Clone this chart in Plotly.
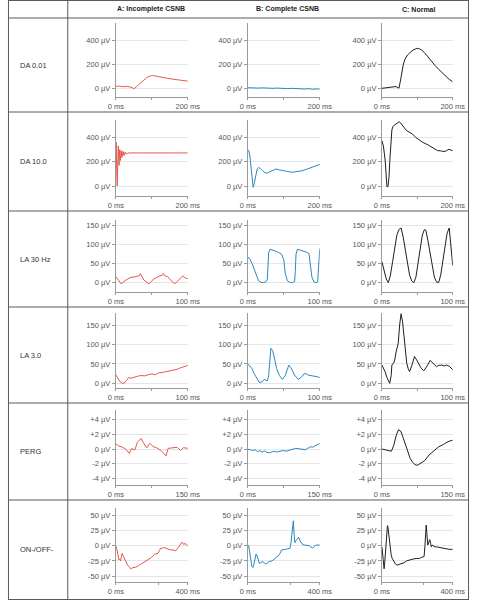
import plotly.graph_objects as go

W, H = 482, 600
FONT = "Liberation Sans, Arial, sans-serif"

col_titles = ["A: Incomplete CSNB", "B: Complete CSNB", "C: Normal"]
row_labels = ["DA 0.01", "DA 10.0", "LA 30 Hz", "LA 3.0", "PERG", "ON-/OFF-"]
line_colors = ["#e4584c", "#2b87bf", "#1f1f1f"]

# ---------------- DA 0.01 ----------------
t_da001_a = [0, 5, 10, 15, 20, 25, 30, 35, 40, 45, 50, 55, 60, 65, 70, 75, 80, 85, 90, 95, 100, 105, 110,
             115, 120, 125, 130, 135, 140, 145, 150, 155, 160, 165, 170, 175, 180, 185, 190, 195, 200]
v_da001_a = [18, 15, 20, 14, 16, 12, 17, 13, 14, 8, -5, 5, 20, 35, 50, 62, 75, 88, 97, 103, 108, 106, 104,
             100, 98, 94, 92, 88, 86, 83, 80, 78, 77, 74, 72, 70, 68, 66, 64, 62, 60]
t_da001_b = [0, 10, 20, 30, 40, 50, 60, 70, 80, 90, 100, 110, 120, 130, 140, 150, 160, 170, 180, 190, 200]
v_da001_b = [5, 3, 6, 2, 4, 1, 3, 0, 2, -1, 1, -2, 0, -3, -1, -4, -6, -3, -8, -5, -7]
t_da001_c = [0, 5, 10, 15, 20, 25, 30, 35, 40, 45, 48, 52, 56, 60, 64, 68, 72, 77, 82, 88, 94, 100, 106,
             112, 120, 130, 140, 150, 160, 170, 180, 190, 200]
v_da001_c = [0, 2, 4, 5, 7, 10, 14, 18, 15, 5, 2, 60, 140, 195, 238, 262, 280, 294, 310, 322, 330, 336, 332,
             322, 300, 262, 224, 192, 160, 130, 100, 75, 55]

# ---------------- DA 10.0 ----------------
t_da10_a = [0, 1, 2.5, 4, 5.5, 7, 9, 11, 13, 15, 17, 20, 23, 26, 30, 34, 38, 45, 60, 80, 100, 120, 140, 160,
            180, 200]
v_da10_a = [150, 360, 120, 0, 180, 330, 170, 300, 210, 290, 235, 285, 250, 280, 262, 275, 270, 273, 272, 271,
            272, 272, 273, 272, 272, 272]
t_da10_b = [0, 3, 6, 9, 12, 15, 18, 22, 26, 30, 35, 40, 45, 52, 60, 70, 78, 85, 93, 100, 110, 123, 135,
            150, 165, 180, 190, 200]
v_da10_b = [300, 290, 240, 150, 40, -10, 20, 90, 140, 152, 145, 130, 115, 105, 115, 130, 140, 135, 132, 128,
            120, 113, 118, 125, 140, 155, 165, 178]
t_da10_c = [0, 4, 9, 12, 14, 17, 20, 22, 24, 26, 28, 31, 35, 40, 45, 49, 55, 60, 64, 70, 78, 86, 95, 104,
            115, 131, 145, 157, 165, 175, 182, 189, 195, 200]
v_da10_c = [373, 330, 214, 60, -5, -5, 77, 200, 323, 420, 461, 490, 502, 512, 520, 529, 510, 495, 475, 455,
            440, 428, 400, 379, 360, 337, 315, 291, 290, 283, 290, 302, 295, 291]

# ---------------- LA 30 Hz ----------------
t_la30_a = [0, 4.4, 7.5, 14, 21, 28, 33, 34, 36, 39, 46, 53, 61, 65, 66, 68, 72, 77, 82, 88, 93, 96, 100]
v_la30_a = [16, 3, -3, 7, 14, 16, 19, 24, 17, 7, -3, 10, 18, 20, 24, 18, 16, 5, -3, 10, 18, 13, 10]
t_la30_b = [0, 3, 6, 9, 12, 15, 18, 22, 25, 27, 28, 29, 31, 35, 40, 44, 47, 50, 52, 55, 58, 62, 65, 66, 67,
            69, 73, 78, 82, 85, 87, 89, 92, 95, 97, 98, 99, 100]
v_la30_b = [68, 62, 50, 35, 18, 5, 1, 0, 2, 8, 40, 80, 88, 86, 82, 78, 75, 60, 25, 5, 1, 0, 3, 30, 75, 88,
            86, 84, 80, 76, 50, 15, 2, 0, 2, 30, 70, 90]
t_la30_c = [0, 3, 6, 9, 12, 15, 18, 21, 24, 27, 30, 33, 36, 39, 42, 45, 48, 51, 54, 57, 60, 62, 65, 68, 71,
            74, 77, 80, 83, 86, 89, 92, 95, 97, 100]
v_la30_c = [55, 30, 10, 0, 20, 55, 95, 125, 140, 144, 120, 85, 50, 20, 5, 0, 15, 50, 90, 125, 140, 138, 110,
            75, 40, 15, 2, 0, 20, 60, 100, 130, 144, 110, 45]

# ---------------- LA 3.0 ----------------
t_la3_a = [0, 3, 6, 9, 12, 15, 18, 21, 25, 30, 35, 40, 45, 50, 55, 60, 65, 70, 75, 80, 85, 90, 95, 100]
v_la3_a = [22, 14, 4, 0, 1, 8, 15, 13, 16, 18, 20, 19, 22, 24, 22, 27, 28, 30, 31, 34, 36, 40, 43, 46]
t_la3_b = [0, 3, 5.8, 8, 11, 13.5, 16, 20, 23, 25, 27, 29, 30, 31, 32, 33, 35, 37, 40, 44, 48, 52, 55, 57,
           60, 65, 70, 74, 78, 81, 84, 88, 92, 96, 100]
v_la3_b = [50, 45, 38, 28, 17, 8, 2, 4, 10, 8, 6, 20, 43, 70, 90, 88, 81, 65, 38, 20, 10, 20, 38, 47, 40,
           21, 10, 15, 24, 25, 21, 20, 18, 17, 15]
t_la3_c = [0, 2, 4.4, 7, 9, 11, 13, 14, 16.4, 18, 20, 23, 25, 27, 29, 31, 33, 35, 37, 39, 42, 46, 49, 51, 55,
           59, 64, 68, 72, 77, 80, 84, 88, 91, 95, 100]
v_la3_c = [47, 40, 30, 15, 5, 0, 20, 47, 52, 60, 81, 103, 150, 179, 160, 120, 80, 52, 38, 30, 45, 69, 60, 52,
           40, 32, 45, 59, 52, 43, 46, 47, 45, 47, 44, 35]

# ---------------- PERG ----------------
t_perg_a = [0, 4.6, 14.6, 21, 28, 32.6, 40, 44.6, 52.6, 58, 64.6, 71, 78, 84.6, 94.6, 104.6, 109, 118, 128,
            134.6, 141, 150]
v_perg_a = [0.77, 0.45, 0.23, -0.04, -0.6, 0.04, -0.1, 0.86, 1.44, 0.77, 0.18, 0.77, 0.32, 0.18, -0.23,
            -0.95, 0.09, 0.18, 0.23, -0.2, 0.18, 0.09]
t_perg_b = [0, 5, 10, 15, 20, 25, 30, 35, 40, 45, 50, 55, 60, 65, 70, 75, 80, 85, 90, 95, 100, 105, 110, 115,
            120, 125, 130, 135, 140, 145, 150]
v_perg_b = [0, -0.1, -0.2, -0.1, -0.35, -0.2, -0.4, -0.25, -0.45, -0.5, -0.35, -0.3, -0.4, -0.3, -0.25, -0.2,
            -0.3, -0.2, -0.1, 0, 0.1, 0.05, 0, -0.05, -0.1, 0.1, 0.3, 0.25, 0.4, 0.5, 0.75]
t_perg_c = [0, 10, 20, 25, 30, 35, 40, 45, 50, 55, 60, 65, 70, 75, 80, 90, 100, 110, 120, 130, 140, 150]
v_perg_c = [0, -0.1, -0.3, 0.5, 1.8, 2.6, 2.4, 1.5, 0.5, -0.5, -1.3, -1.8, -2.1, -2.2, -2.0, -1.6, -0.8,
            -0.2, 0.3, 0.6, 1.0, 1.2]

# ---------------- ON-/OFF- ----------------
t_onoff_a = [0, 4, 7, 12, 18, 22, 27, 31, 35, 40, 48, 57, 66, 75, 83, 95, 110, 125, 146, 160, 181, 200, 217,
             226, 235, 242, 249, 260, 270, 285, 306, 320, 332, 342, 350, 360, 368, 377, 386, 393, 400]
v_onoff_a = [0, -3, -7, -15, -23.5, -22, -25, -18, -12.5, -16, -21, -27, -32, -35, -38, -36, -35.5, -33, -29,
             -27, -23.5, -19, -14, -13, -12.5, -8, -4, -4, -3, -5, -7, -7, -8.5, -5, -1, 3, 6, 2, 4, 1, 0]
t_onoff_b = [0, 5, 9, 14, 18, 23, 28, 32, 38, 42, 46, 50, 53, 58, 64, 72, 81, 90, 99, 110, 120, 135, 147,
             156, 165, 175, 188, 198, 209, 222, 235, 240, 244, 248, 253, 257, 262, 267, 271, 277, 283, 290,
             297, 305, 315, 328, 342, 350, 359, 368, 377, 388, 400]
v_onoff_b = [0, 0, -8, -15, -25, -34, -36, -33, -22, -15, -13.7, -15, -18, -24, -29, -28, -26, -28, -30, -28,
             -26, -25, -22, -20, -18, -15, -7, -6, -6, -5, -4, 5, 15, 30, 41, 20, 5, 8, 10, 12, 14, 8, 4, 2,
             1, 0, 0, -2, -4, -2, 1, 1, 1]
t_onoff_c = [0, 4, 7, 10, 12, 15, 18, 21, 23, 27, 31, 34, 38, 43, 48, 52, 58, 67, 76, 85, 98, 112, 125, 139,
             157, 175, 193, 211, 225, 238, 243, 246, 250, 254, 259, 265, 270, 275, 279, 285, 292, 300, 310,
             325, 337, 350, 364, 380, 400]
v_onoff_c = [-2, -10, -23, -33, -38, -30, -18, 0, 16, 28, 33, 30, 18, 4, -6, -15, -21, -26, -30, -32, -31,
             -30, -28, -25, -23, -22, -21, -21, -19, -18, 0, 16, 34, 20, 1, 6, 10, 4, -2, 1, 0, -2, -2, -3,
             -4, -5, -6, -6, -6]

series = [
    [(t_da001_a, v_da001_a), (t_da001_b, v_da001_b), (t_da001_c, v_da001_c)],
    [(t_da10_a, v_da10_a), (t_da10_b, v_da10_b), (t_da10_c, v_da10_c)],
    [(t_la30_a, v_la30_a), (t_la30_b, v_la30_b), (t_la30_c, v_la30_c)],
    [(t_la3_a, v_la3_a), (t_la3_b, v_la3_b), (t_la3_c, v_la3_c)],
    [(t_perg_a, v_perg_a), (t_perg_b, v_perg_b), (t_perg_c, v_perg_c)],
    [(t_onoff_a, v_onoff_a), (t_onoff_b, v_onoff_b), (t_onoff_c, v_onoff_c)],
]

# axis ticks
x_ranges = [[0, 200], [0, 200], [0, 100], [0, 100], [0, 150], [0, 400]]
x_tickvals = [[0, 100, 200], [0, 100, 200], [0, 50, 100], [0, 50, 100], [0, 75, 150], [0, 235, 400]]
x_ticktext = [["0 ms", "", "200 ms"], ["0 ms", "", "200 ms"], ["0 ms", "", "100 ms"],
              ["0 ms", "", "100 ms"], ["0 ms", "", "150 ms"], ["0 ms", "", "400 ms"]]
y_ranges = [[-73, 549], [-82, 543], [-24.5, 165], [-12.1, 181], [-4.86, 5.27], [-59.7, 62]]
y_tickvals = [[0, 200, 400], [0, 200, 400], [0, 50, 100, 150], [0, 50, 100, 150],
              [-4, -2, 0, 2, 4], [-50, -25, 0, 25, 50]]
y_ticktext = [["0 µV", "200 µV", "400 µV"], ["0 µV", "200 µV", "400 µV"],
              ["0 µV", "50 µV", "100 µV", "150 µV"], ["0 µV", "50 µV", "100 µV", "150 µV"],
              ["-4 µV", "-2 µV", "0 µV", "+2 µV", "+4 µV"],
              ["-50 µV", "-25 µV", "0 µV", "25 µV", "50 µV"]]

# pixel layout of plot areas
col_px = [(112.7, 188.0), (250.7, 326.0), (391.0, 465.0)]
row_px = [(23, 97), (120, 196), (220, 292), (313, 388), (410, 485), (508, 582)]
row_lines = [18, 112, 211, 307, 403, 500]
title_x = [150, 292, 430]

fig = go.Figure()
layout = dict(
    width=W, height=H, margin=dict(l=0, r=0, t=0, b=0),
    paper_bgcolor="white", plot_bgcolor="white", showlegend=False,
    font=dict(family=FONT, size=7.5, color="#555"),
)

AX = "#9a9a9a"
for i in range(6):
    for j in range(3):
        k = i * 3 + j + 1
        xs = "" if k == 1 else str(k)
        t, v = series[i][j]
        fig.add_trace(go.Scatter(x=t, y=v, mode="lines", xaxis="x" + xs, yaxis="y" + xs,
                                 line=dict(color=line_colors[j], width=1), hoverinfo="skip"))
        x0, x1 = col_px[j]
        y0, y1 = row_px[i]
        layout["xaxis" + xs] = dict(
            domain=[x0 / W, x1 / W], anchor="y" + xs, range=x_ranges[i],
            showgrid=False, zeroline=False, showline=True, linecolor=AX, linewidth=1,
            ticks="outside", ticklen=2, tickcolor=AX, tickwidth=1,
            tickvals=x_tickvals[i], ticktext=x_ticktext[i],
            tickfont=dict(size=7.5, color="#555"), fixedrange=True)
        layout["yaxis" + xs] = dict(
            domain=[1 - y1 / H, 1 - y0 / H], anchor="x" + xs, range=y_ranges[i],
            showgrid=True, gridcolor="#e6e6e6", gridwidth=1, zeroline=False,
            showline=True, linecolor=AX, linewidth=1,
            ticks="outside", ticklen=3, tickcolor=AX, tickwidth=1,
            tickvals=y_tickvals[i], ticktext=y_ticktext[i],
            tickfont=dict(size=7.5, color="#555"), fixedrange=True)

shapes = []
LC = "#5a5a5a"
def hline(ypx, x0px=0.5, x1px=481.5):
    shapes.append(dict(type="line", xref="paper", yref="paper", x0=x0px / W, x1=x1px / W,
                       y0=1 - ypx / H, y1=1 - ypx / H, line=dict(color=LC, width=1)))
def vline(xpx):
    shapes.append(dict(type="line", xref="paper", yref="paper", x0=xpx / W, x1=xpx / W,
                       y0=0, y1=1, line=dict(color=LC, width=1)))
hline(0.5)
hline(599.5)
for yl in row_lines:
    hline(yl)
vline(0.5)
vline(62.5)
vline(481.5)
layout["shapes"] = shapes

ann = []
for j, ttl in enumerate(col_titles):
    ann.append(dict(text="<b>" + ttl + "</b>", x=title_x[j] / W, y=1 - 9 / H, xref="paper", yref="paper",
                    showarrow=False, xanchor="center", yanchor="middle",
                    font=dict(family=FONT, size=7, color="#222")))
for i, lab in enumerate(row_labels):
    top = row_lines[i]
    bot = row_lines[i + 1] if i + 1 < len(row_lines) else 599.5
    ann.append(dict(text=lab, x=10 / W, y=1 - ((top + bot) / 2) / H, xref="paper", yref="paper",
                    showarrow=False, xanchor="left", yanchor="middle",
                    font=dict(family=FONT, size=7.5, color="#333")))
layout["annotations"] = ann

fig.update_layout(**layout)
fig.write_html("out.html", config={"displayModeBar": False})
